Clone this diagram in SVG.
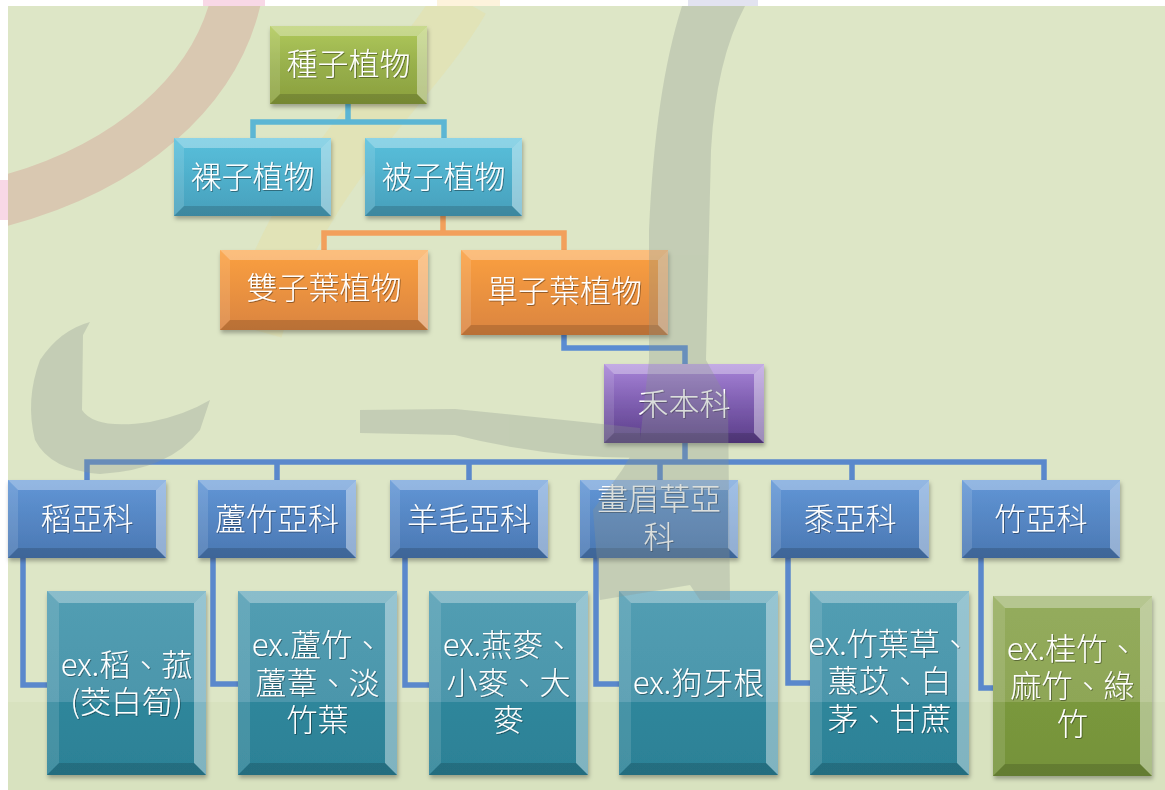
<svg xmlns="http://www.w3.org/2000/svg" xmlns:xlink="http://www.w3.org/1999/xlink" width="1165" height="790" viewBox="0 0 1165 790">
<style>
.bt{fill:#fff;opacity:.32}
.bl{fill:#fff;opacity:.12}
.br{fill:#fff;opacity:.4}
.bb{fill:#000;opacity:.15}
.lbl{fill:#fff;font-family:"Noto Sans CJK TC","Noto Sans",sans-serif;font-weight:300;font-size:31px;text-anchor:middle;filter:url(#tsh)}
.box{filter:url(#sh)}
.con{fill:none;stroke-width:5.5;stroke-linejoin:miter;stroke-linecap:butt}
</style>
<defs>
<filter id="sh" x="-10%" y="-10%" width="125%" height="130%"><feDropShadow dx="1" dy="3" stdDeviation="2" flood-color="#000" flood-opacity="0.3"/></filter>
<filter id="tsh" x="-10%" y="-20%" width="120%" height="150%"><feDropShadow dx="0.8" dy="0.8" stdDeviation="0.5" flood-color="#000" flood-opacity="0.45"/></filter>
<linearGradient id="gGreen" x1="0" y1="0" x2="0" y2="1"><stop offset="0" stop-color="#b0c95a"/><stop offset="0.5" stop-color="#98b04c"/><stop offset="1" stop-color="#8a9f3c"/></linearGradient>
<linearGradient id="gCyan" x1="0" y1="0" x2="0" y2="1"><stop offset="0" stop-color="#58c0dc"/><stop offset="1" stop-color="#479fbb"/></linearGradient>
<linearGradient id="gOrange" x1="0" y1="0" x2="0" y2="1"><stop offset="0" stop-color="#fba040"/><stop offset="1" stop-color="#da8440"/></linearGradient>
<linearGradient id="gPurple" x1="0" y1="0" x2="0" y2="1"><stop offset="0" stop-color="#a884d8"/><stop offset="0.5" stop-color="#7e5eb0"/><stop offset="1" stop-color="#5a3d88"/></linearGradient>
<linearGradient id="gBlue" x1="0" y1="0" x2="0" y2="1"><stop offset="0" stop-color="#6196d6"/><stop offset="1" stop-color="#4a77b2"/></linearGradient>
<linearGradient id="gTeal" x1="0" y1="0" x2="0" y2="1"><stop offset="0" stop-color="#529eb3"/><stop offset="0.603" stop-color="#4c96ab"/><stop offset="0.603" stop-color="#2f869b"/><stop offset="1" stop-color="#2c8196"/></linearGradient>
<linearGradient id="gLime" x1="0" y1="0" x2="0" y2="1"><stop offset="0" stop-color="#94ac5c"/><stop offset="0.589" stop-color="#8ea657"/><stop offset="0.589" stop-color="#7a983c"/><stop offset="1" stop-color="#75923a"/></linearGradient>
<g id="bvA"><path class="bt" d="M0,0H157L147,10H10Z"/><path class="bl" d="M0,0L10,10V68L0,78Z"/><path class="br" d="M157,0V78L147,68V10Z"/><path class="bb" d="M0,78L10,68H147L157,78Z"/></g>
<g id="bvB"><path class="bt" d="M0,0H208L198,10H10Z"/><path class="bl" d="M0,0L10,10V70L0,80Z"/><path class="br" d="M208,0V80L198,70V10Z"/><path class="bb" d="M0,80L10,70H198L208,80Z"/></g>
<g id="bvC"><path class="bt" d="M0,0H207L197,10H10Z"/><path class="bl" d="M0,0L10,10V75L0,85Z"/><path class="br" d="M207,0V85L197,75V10Z"/><path class="bb" d="M0,85L10,75H197L207,85Z"/></g>
<g id="bvD"><path class="bt" d="M0,0H160L150,10H10Z"/><path class="bl" d="M0,0L10,10V69L0,79Z"/><path class="br" d="M160,0V79L150,69V10Z"/><path class="bb" d="M0,79L10,69H150L160,79Z"/></g>
<g id="bvE"><path class="bt" d="M0,0H158L148,10H10Z"/><path class="bl" d="M0,0L10,10V68L0,78Z"/><path class="br" d="M158,0V78L148,68V10Z"/><path class="bb" d="M0,78L10,68H148L158,78Z"/></g>
<g id="bvF"><path class="bt" d="M0,0H159L147,12H12Z"/><path class="bl" d="M0,0L12,12V172L0,184Z"/><path class="br" d="M159,0V184L147,172V12Z"/><path class="bb" d="M0,184L12,172H147L159,184Z"/></g>
<g id="bvG"><path class="bt" d="M0,0H159L147,12H12Z"/><path class="bl" d="M0,0L12,12V168L0,180Z"/><path class="br" d="M159,0V180L147,168V12Z"/><path class="bb" d="M0,180L12,168H147L159,180Z"/></g>
<clipPath id="bgclip"><rect x="8" y="6" width="1157" height="784"/></clipPath>
</defs>

<g id="background">
<rect x="0" y="0" width="1165" height="790" fill="#ffffff"/>
<rect x="203" y="0" width="62" height="6" fill="#f8d8e6"/>
<rect x="0" y="180" width="8" height="40" fill="#f8d8e6"/>
<rect x="437" y="0" width="63" height="6" fill="#fdf3dc"/>
<rect x="688" y="0" width="70" height="6" fill="#e2e3f0"/>
<rect x="8" y="6" width="1157" height="696" fill="#dde6c6"/>
<rect x="8" y="702" width="1157" height="88" fill="#d8e2bf"/>
<g clip-path="url(#bgclip)" fill="none">
<path d="M236,0 C215,90 130,168 0,202" stroke="#d9c8b1" stroke-width="50"/>
<path d="M462,0 C410,90 300,170 255,330" stroke="#e2e1b2" stroke-width="55" opacity="0.75"/>
</g>
</g>

<g id="connectors">
<path class="con" stroke="#5cb6d4" d="M348,103V122M253,138V122H444V138"/>
<path class="con" stroke="#f2a05c" d="M443,216V233M324,250V233H564V250"/>
<path class="con" stroke="#5a8cd2" d="M564,335V348H685V364"/>
<path class="con" stroke="#5a88cc" d="M685,443V462M87,480V462H1044V480M277,462V480M469,462V480M660,462V480M852,462V480"/>
<path class="con" stroke="#5a88cc" d="M23,558V685H47M213,558V684H238M405,558V685H429M596,558V684H619M788,558V683H810M981,558V688H993"/>
</g>

<g id="n1" transform="translate(270,26)"><rect class="box" width="157" height="78" fill="url(#gGreen)"/><use href="#bvA"/><text class="lbl" x="78.5" y="49">種子植物</text></g>
<g id="n2" transform="translate(174,138)"><rect class="box" width="157" height="78" fill="url(#gCyan)"/><use href="#bvA"/><text class="lbl" x="78.5" y="50">裸子植物</text></g>
<g id="n3" transform="translate(365,138)"><rect class="box" width="157" height="78" fill="url(#gCyan)"/><use href="#bvA"/><text class="lbl" x="78.5" y="50">被子植物</text></g>
<g id="n4" transform="translate(220,250)"><rect class="box" width="208" height="80" fill="url(#gOrange)"/><use href="#bvB"/><text class="lbl" x="104" y="49">雙子葉植物</text></g>
<g id="n5" transform="translate(461,250)"><rect class="box" width="207" height="85" fill="url(#gOrange)"/><use href="#bvC"/><text class="lbl" x="103.5" y="52">單子葉植物</text></g>
<g id="n6" transform="translate(604,364)"><rect class="box" width="160" height="79" fill="url(#gPurple)"/><use href="#bvD"/><text class="lbl" x="80" y="51">禾本科</text></g>

<g id="s1" transform="translate(8,480)"><rect class="box" width="158" height="78" fill="url(#gBlue)"/><use href="#bvE"/><text class="lbl" x="79" y="50">稻亞科</text></g>
<g id="s2" transform="translate(198,480)"><rect class="box" width="158" height="78" fill="url(#gBlue)"/><use href="#bvE"/><text class="lbl" x="79" y="50">蘆竹亞科</text></g>
<g id="s3" transform="translate(390,480)"><rect class="box" width="158" height="78" fill="url(#gBlue)"/><use href="#bvE"/><text class="lbl" x="79" y="50">羊毛亞科</text></g>
<g id="s4" transform="translate(580,480)"><rect class="box" width="158" height="78" fill="url(#gBlue)"/><use href="#bvE"/><text class="lbl" x="79" y="30">畫眉草亞</text><text class="lbl" x="79" y="68">科</text></g>
<g id="s5" transform="translate(771,480)"><rect class="box" width="158" height="78" fill="url(#gBlue)"/><use href="#bvE"/><text class="lbl" x="79" y="50">黍亞科</text></g>
<g id="s6" transform="translate(962,480)"><rect class="box" width="158" height="78" fill="url(#gBlue)"/><use href="#bvE"/><text class="lbl" x="79" y="50">竹亞科</text></g>

<g id="e1" transform="translate(47,591)"><rect class="box" width="159" height="184" fill="url(#gTeal)"/><use href="#bvF"/><text class="lbl" x="79.5" y="85">ex.稻、菰</text><text class="lbl" x="79.5" y="122">(茭白筍)</text></g>
<g id="e2" transform="translate(238,591)"><rect class="box" width="159" height="184" fill="url(#gTeal)"/><use href="#bvF"/><text class="lbl" x="79.5" y="65">ex.蘆竹、</text><text class="lbl" x="79.5" y="103">蘆葦、淡</text><text class="lbl" x="79.5" y="140">竹葉</text></g>
<g id="e3" transform="translate(429,591)"><rect class="box" width="159" height="184" fill="url(#gTeal)"/><use href="#bvF"/><text class="lbl" x="79.5" y="65">ex.燕麥、</text><text class="lbl" x="79.5" y="103">小麥、大</text><text class="lbl" x="79.5" y="140">麥</text></g>
<g id="e4" transform="translate(619,591)"><rect class="box" width="159" height="184" fill="url(#gTeal)"/><use href="#bvF"/><text class="lbl" x="79.5" y="103">ex.狗牙根</text></g>
<g id="e5" transform="translate(810,591)"><rect class="box" width="159" height="184" fill="url(#gTeal)"/><use href="#bvF"/><text class="lbl" x="79.5" y="64">ex.竹葉草、</text><text class="lbl" x="79.5" y="101">蕙苡、白</text><text class="lbl" x="79.5" y="139">茅、甘蔗</text></g>
<g id="e6" transform="translate(993,596)"><rect class="box" width="159" height="180" fill="url(#gLime)"/><use href="#bvG"/><text class="lbl" x="79.5" y="64">ex.桂竹、</text><text class="lbl" x="79.5" y="101">麻竹、綠</text><text class="lbl" x="79.5" y="139">竹</text></g>

<g id="watermark" opacity="0.3" fill="#8a968d">
<path d="M682,6 L745,6 Q716,60 711,150 L706,360 L728,400 L730,600 L700,600 L690,585 L660,590 L600,600 L593,510 L622,470 L640,440 L649,360 L649,230 Q655,90 682,6 Z"/>
<path d="M360,410 L455,409 Q545,418 640,428 L642,458 Q545,458 455,435 L360,433 Z"/>
<path d="M90,322 L83,335 L82,410 Q95,430 150,422 Q185,415 210,400 L200,430 Q170,470 100,474 Q50,470 35,440 Q25,400 40,360 Q60,330 90,322 Z"/>
</g>
</svg>
